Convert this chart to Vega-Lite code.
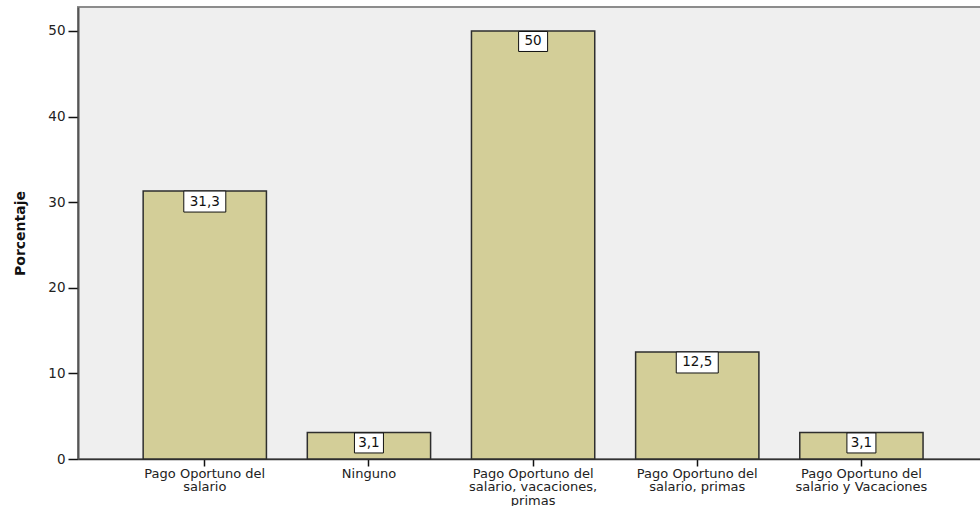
{
  "$schema": "https://vega.github.io/schema/vega-lite/v6.json",
  "width": 904,
  "height": 452,
  "autosize": {"type": "none"},
  "padding": {"left": 78, "top": 7, "right": 0, "bottom": 47},
  "background": "white",
  "config": {
    "locale": {"number": {"decimal": ",", "thousands": ".", "grouping": [3], "currency": ["", ""]}},
    "view": {"fill": "#efefef", "stroke": "#8c8c8c", "strokeWidth": 2},
    "font": "DejaVu Sans"
  },
  "data": {
    "values": [
      {"categoria": "Pago Oportuno del salario", "porcentaje": 31.3},
      {"categoria": "Ninguno", "porcentaje": 3.1},
      {"categoria": "Pago Oportuno del salario, vacaciones, primas", "porcentaje": 50},
      {"categoria": "Pago Oportuno del salario, primas", "porcentaje": 12.5},
      {"categoria": "Pago Oportuno del salario y Vacaciones", "porcentaje": 3.1}
    ]
  },
  "encoding": {
    "x": {
      "field": "categoria",
      "type": "nominal",
      "sort": null,
      "scale": {"paddingInner": 0.249, "paddingOuter": 0.378, "align": 0.525},
      "axis": {
        "title": null,
        "labelAngle": 0,
        "labelFontSize": 13,
        "labelLineHeight": 13.5,
        "labelColor": "#222222",
        "labelPadding": 1,
        "labelExpr": "split(replace(replace(datum.value, ' del ', ' del|'), 'vacaciones, ', 'vacaciones,|'), '|')",
        "domainColor": "#333333",
        "domainWidth": 1.5,
        "tickColor": "#111111",
        "tickSize": 7,
        "tickWidth": 1.5,
        "grid": false
      }
    },
    "y": {
      "field": "porcentaje",
      "type": "quantitative",
      "scale": {"domain": [0, 52.8], "nice": false},
      "axis": {
        "title": "Porcentaje",
        "titleFont": "DejaVu Sans",
        "titleFontWeight": "bold",
        "titleFontSize": 14,
        "titleColor": "#111111",
        "titlePadding": 20,
        "values": [0, 10, 20, 30, 40, 50],
        "labelFontSize": 13.5,
        "labelColor": "#222222",
        "labelPadding": 3,
        "domainColor": "#555555",
        "domainWidth": 2,
        "tickColor": "#111111",
        "tickSize": 10,
        "tickWidth": 1.5,
        "grid": false
      }
    }
  },
  "layer": [
    {
      "mark": {"type": "bar", "fill": "#d3ce98", "stroke": "#2e2e2e", "strokeWidth": 1.5}
    },
    {
      "mark": {"type": "point", "filled": true, "fill": "white", "stroke": "#111111", "strokeWidth": 1, "opacity": 1, "yOffset": 10.5},
      "encoding": {
        "shape": {
          "condition": {"test": "length(format(datum.porcentaje, '.1~f')) > 3", "value": "M-1,-0.5H1V0.5H-1Z"},
          "value": "M-1,-0.69H1V0.69H-1Z"
        },
        "size": {
          "condition": {"test": "length(format(datum.porcentaje, '.1~f')) > 3", "value": 1764},
          "value": 841
        }
      }
    },
    {
      "mark": {"type": "text", "yOffset": 10.5, "baseline": "middle", "align": "center", "fontSize": 13.5, "color": "#111111"},
      "encoding": {"text": {"field": "porcentaje", "type": "quantitative", "format": ".1~f"}}
    }
  ]
}
